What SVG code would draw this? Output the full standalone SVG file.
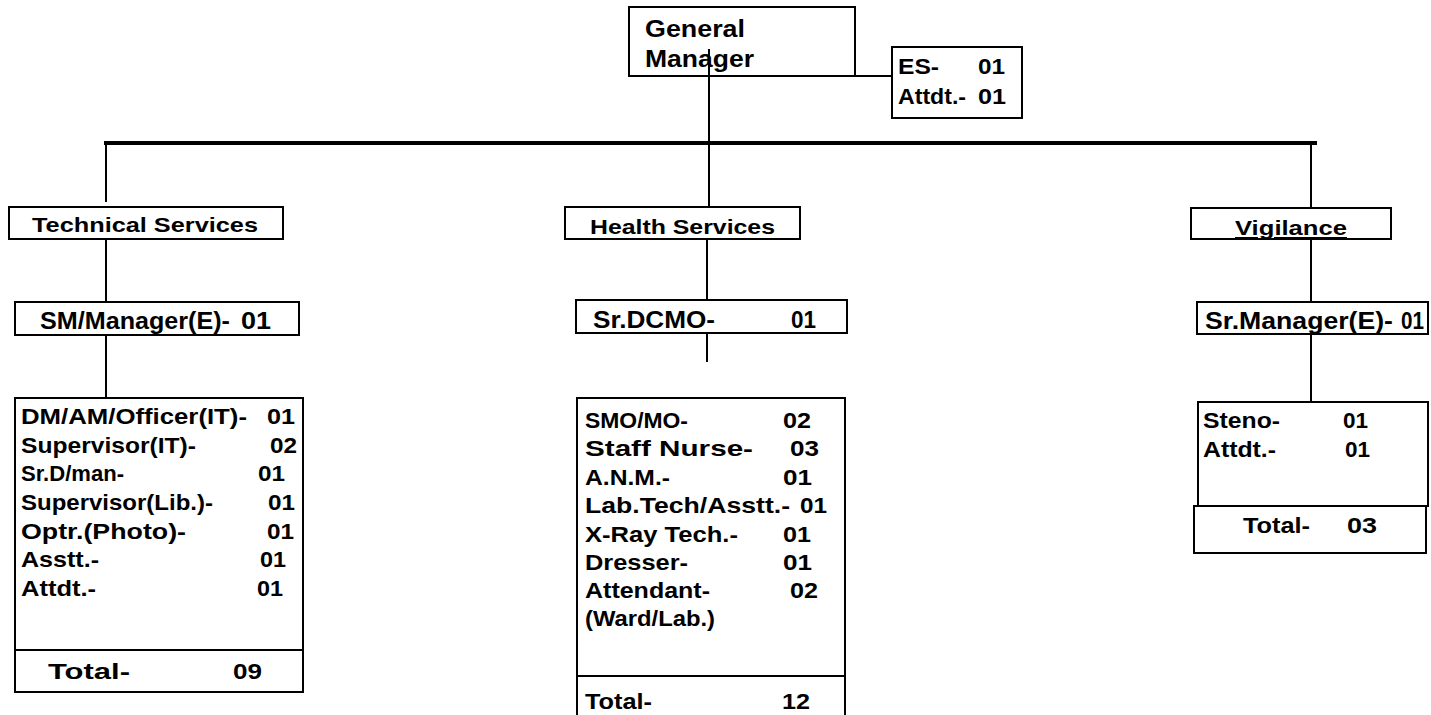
<svg xmlns="http://www.w3.org/2000/svg" width="1431" height="715" viewBox="0 0 1431 715">
  <style>
    .box { fill: #fff; stroke: #000; stroke-width: 2; }
    .t { font-family: "Liberation Sans", Arial, sans-serif; font-weight: bold; font-size: 22.5px; fill: #000; }
    .h1 { font-size: 21px; }
    .h2 { font-size: 23px; }
    .ln { stroke: #000; stroke-width: 2; fill: none; }
    .bus { stroke: #000; stroke-width: 4; fill: none; }
  </style>
  <defs>
    <clipPath id="vigClip"><rect x="1191" y="209" width="200" height="29"/></clipPath>
  </defs>
  <rect width="1431" height="715" fill="#fff"/>

  <!-- top level -->
  <g id="general-manager">
    <rect class="box" x="629" y="7" width="226" height="69"/>
    <text class="t h2" x="645" y="37" textLength="100" lengthAdjust="spacingAndGlyphs">General</text>
    <text class="t h2" x="645" y="67" textLength="109" lengthAdjust="spacingAndGlyphs">Manager</text>
  </g>

  <g id="gm-office">
    <rect class="box" x="892" y="47" width="130" height="71"/>
    <text class="t" x="898" y="74" textLength="41" lengthAdjust="spacingAndGlyphs">ES-</text>
    <text class="t" x="978" y="74" textLength="27" lengthAdjust="spacingAndGlyphs">01</text>
    <text class="t" x="898" y="104" textLength="68" lengthAdjust="spacingAndGlyphs">Attdt.-</text>
    <text class="t" x="978" y="104" textLength="28" lengthAdjust="spacingAndGlyphs">01</text>
  </g>

  <!-- departments -->
  <g id="technical-services">
    <rect class="box" x="9" y="207" width="274" height="32"/>
    <text class="t h1" x="32" y="232" textLength="226" lengthAdjust="spacingAndGlyphs">Technical Services</text>
  </g>

  <g id="health-services">
    <rect class="box" x="565" y="207" width="235" height="32"/>
    <text class="t h1" x="590" y="234" textLength="185" lengthAdjust="spacingAndGlyphs">Health Services</text>
  </g>

  <g id="vigilance">
    <rect class="box" x="1191" y="208" width="200" height="31"/>
    <text class="t h1" x="1235" y="235" textLength="112" lengthAdjust="spacingAndGlyphs" text-decoration="underline" clip-path="url(#vigClip)">Vigilance</text>
  </g>

  <!-- heads -->
  <g id="tech-head">
    <rect class="box" x="15" y="302" width="284" height="33"/>
    <text class="t h2" x="40" y="329" textLength="190" lengthAdjust="spacingAndGlyphs">SM/Manager(E)-</text>
    <text class="t h2" x="241" y="329" textLength="30" lengthAdjust="spacingAndGlyphs">01</text>
  </g>

  <g id="health-head">
    <rect class="box" x="576" y="300" width="271" height="33"/>
    <text class="t h2" x="593" y="328" textLength="122" lengthAdjust="spacingAndGlyphs">Sr.DCMO-</text>
    <text class="t h2" x="791" y="328" textLength="25" lengthAdjust="spacingAndGlyphs">01</text>
  </g>

  <g id="vig-head">
    <rect class="box" x="1197" y="302" width="231" height="32"/>
    <text class="t h2" x="1205" y="329" textLength="188" lengthAdjust="spacingAndGlyphs">Sr.Manager(E)-</text>
    <text class="t h2" x="1401" y="329" textLength="23" lengthAdjust="spacingAndGlyphs">01</text>
  </g>

  <!-- staff lists -->
  <g id="tech-staff">
    <rect class="box" x="15" y="398" width="288" height="252"/>
    <rect class="box" x="15" y="650" width="288" height="42"/>
    <text class="t" x="21" y="424" textLength="226" lengthAdjust="spacingAndGlyphs">DM/AM/Officer(IT)-</text>
    <text class="t" x="267" y="424" textLength="28" lengthAdjust="spacingAndGlyphs">01</text>
    <text class="t" x="21" y="453" textLength="175" lengthAdjust="spacingAndGlyphs">Supervisor(IT)-</text>
    <text class="t" x="270" y="453" textLength="27" lengthAdjust="spacingAndGlyphs">02</text>
    <text class="t" x="21" y="481" textLength="103" lengthAdjust="spacingAndGlyphs">Sr.D/man-</text>
    <text class="t" x="258" y="481" textLength="27" lengthAdjust="spacingAndGlyphs">01</text>
    <text class="t" x="21" y="510" textLength="192" lengthAdjust="spacingAndGlyphs">Supervisor(Lib.)-</text>
    <text class="t" x="268" y="510" textLength="27" lengthAdjust="spacingAndGlyphs">01</text>
    <text class="t" x="21" y="539" textLength="165" lengthAdjust="spacingAndGlyphs">Optr.(Photo)-</text>
    <text class="t" x="267" y="539" textLength="27" lengthAdjust="spacingAndGlyphs">01</text>
    <text class="t" x="21" y="567" textLength="78" lengthAdjust="spacingAndGlyphs">Asstt.-</text>
    <text class="t" x="260" y="567" textLength="26" lengthAdjust="spacingAndGlyphs">01</text>
    <text class="t" x="21" y="596" textLength="75" lengthAdjust="spacingAndGlyphs">Attdt.-</text>
    <text class="t" x="257" y="596" textLength="26" lengthAdjust="spacingAndGlyphs">01</text>
    <text class="t" x="48" y="679" textLength="82" lengthAdjust="spacingAndGlyphs">Total-</text>
    <text class="t" x="233" y="679" textLength="29" lengthAdjust="spacingAndGlyphs">09</text>
  </g>

  <g id="health-staff">
    <rect class="box" x="577" y="398" width="268" height="278"/>
    <rect class="box" x="577" y="676" width="268" height="45"/>
    <text class="t" x="585" y="428" textLength="103" lengthAdjust="spacingAndGlyphs">SMO/MO-</text>
    <text class="t" x="783" y="428" textLength="28" lengthAdjust="spacingAndGlyphs">02</text>
    <text class="t" x="585" y="456" textLength="168" lengthAdjust="spacingAndGlyphs">Staff Nurse-</text>
    <text class="t" x="790" y="456" textLength="29" lengthAdjust="spacingAndGlyphs">03</text>
    <text class="t" x="585" y="485" textLength="85" lengthAdjust="spacingAndGlyphs">A.N.M.-</text>
    <text class="t" x="783" y="485" textLength="29" lengthAdjust="spacingAndGlyphs">01</text>
    <text class="t" x="585" y="513" textLength="205" lengthAdjust="spacingAndGlyphs">Lab.Tech/Asstt.-</text>
    <text class="t" x="800" y="513" textLength="27" lengthAdjust="spacingAndGlyphs">01</text>
    <text class="t" x="585" y="542" textLength="153" lengthAdjust="spacingAndGlyphs">X-Ray Tech.-</text>
    <text class="t" x="783" y="542" textLength="28" lengthAdjust="spacingAndGlyphs">01</text>
    <text class="t" x="585" y="570" textLength="103" lengthAdjust="spacingAndGlyphs">Dresser-</text>
    <text class="t" x="783" y="570" textLength="29" lengthAdjust="spacingAndGlyphs">01</text>
    <text class="t" x="585" y="598" textLength="125" lengthAdjust="spacingAndGlyphs">Attendant-</text>
    <text class="t" x="790" y="598" textLength="28" lengthAdjust="spacingAndGlyphs">02</text>
    <text class="t" x="585" y="626" textLength="130" lengthAdjust="spacingAndGlyphs">(Ward/Lab.)</text>
    <text class="t" x="585" y="709" textLength="67" lengthAdjust="spacingAndGlyphs">Total-</text>
    <text class="t" x="782" y="709" textLength="28" lengthAdjust="spacingAndGlyphs">12</text>
  </g>

  <g id="vig-staff">
    <rect class="box" x="1198" y="402" width="230" height="104"/>
    <rect class="box" x="1194" y="506" width="232" height="47"/>
    <text class="t" x="1203" y="428" textLength="77" lengthAdjust="spacingAndGlyphs">Steno-</text>
    <text class="t" x="1343" y="428" textLength="25" lengthAdjust="spacingAndGlyphs">01</text>
    <text class="t" x="1203" y="457" textLength="73" lengthAdjust="spacingAndGlyphs">Attdt.-</text>
    <text class="t" x="1345" y="457" textLength="25" lengthAdjust="spacingAndGlyphs">01</text>
    <text class="t" x="1243" y="533" textLength="67" lengthAdjust="spacingAndGlyphs">Total-</text>
    <text class="t" x="1347" y="533" textLength="30" lengthAdjust="spacingAndGlyphs">03</text>
  </g>

  <!-- connectors -->
  <g id="connectors">
    <line class="ln" x1="709" y1="76" x2="892" y2="76"/>
    <line class="ln" x1="709" y1="49" x2="709" y2="207"/>
    <line class="bus" x1="104" y1="143" x2="1317" y2="143"/>
    <line class="ln" x1="106" y1="141" x2="106" y2="202"/>
    <line class="ln" x1="1311" y1="141" x2="1311" y2="208"/>
    <line class="ln" x1="106" y1="240" x2="106" y2="302"/>
    <line class="ln" x1="707" y1="239" x2="707" y2="300"/>
    <line class="ln" x1="1311" y1="239" x2="1311" y2="302"/>
    <line class="ln" x1="106" y1="335" x2="106" y2="398"/>
    <line class="ln" x1="707" y1="333" x2="707" y2="362"/>
    <line class="ln" x1="1311" y1="334" x2="1311" y2="402"/>
  </g>
</svg>
